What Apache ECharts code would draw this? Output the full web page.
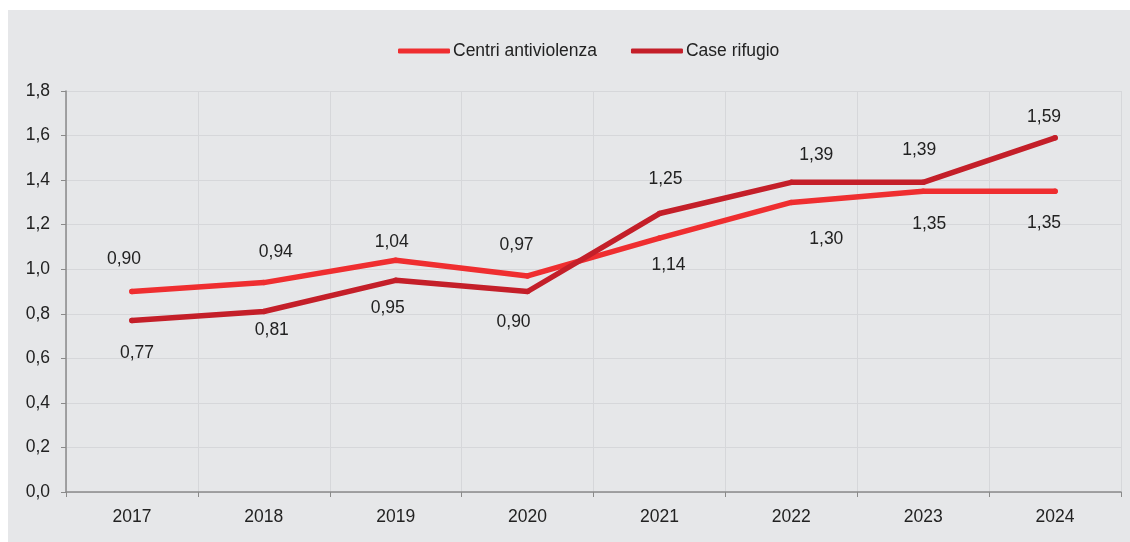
<!DOCTYPE html>
<html>
<head>
<meta charset="utf-8">
<script src="https://cdn.jsdelivr.net/npm/echarts@6/dist/echarts.min.js"></script>
<style>
  html, body { margin: 0; padding: 0; background: #ffffff; }
  #chart { position: absolute; left: 8px; top: 10px; width: 1122px; height: 532px; }
</style>
</head>
<body>
<div id="chart"></div>
<script>
const anni = ['2017', '2018', '2019', '2020', '2021', '2022', '2023', '2024']
const centriAntiviolenza = [0.90, 0.94, 1.04, 0.97, 1.14, 1.30, 1.35, 1.35]
const caseRifugio = [0.77, 0.81, 0.95, 0.90, 1.25, 1.39, 1.39, 1.59]

// spostamento (px) delle etichette rispetto al punto, come nel grafico originale
const spostCentri = [[-8, -32], [12, -30], [-4, -18], [-11, -31], [9, 27], [35, 37], [6, 33], [-11, 32]]
const spostCase = [[5, 33], [8, 19], [-8, 28], [-14, 31], [6, -34], [25, -27], [-4, -32], [-11, -21]]

const virgola = (v, d) => v.toFixed(d).replace('.', ',')
const font = 'Liberation Sans, Arial, sans-serif'

function serie(nome, valori, spostamenti, colore) {
    return {
        name: nome,
        type: 'line',
        data: valori.map((v, i) => ({
            value: v,
            label: { offset: spostamenti[i] }
        })),
        symbol: 'circle',
        symbolSize: 5.5,
        showSymbol: true,
        lineStyle: { width: 5.5, color: colore, cap: 'round' },
        itemStyle: { color: colore, borderWidth: 0 },
        label: {
            show: true,
            position: ['50%', '50%'],
            align: 'center',
            verticalAlign: 'middle',
            fontSize: 17.5,
            fontFamily: font,
            color: '#222222',
            formatter: (p) => virgola(p.value, 2)
        }
    }
}

const chart = echarts.init(document.getElementById('chart'))
const option = {
    backgroundColor: '#e6e7e9',
    animation: false,
    legend: {
        top: 27,
        left: 385,
        icon: 'roundRect',
        itemWidth: 52,
        itemHeight: 5,
        itemGap: 34,
        textStyle: { fontSize: 17.5, fontFamily: font, color: '#222222', padding: [0, 0, 0, -2] },
        data: ['Centri antiviolenza', 'Case rifugio']
    },
    grid: { left: 58, right: 9, top: 81, bottom: 50 },
    xAxis: {
        type: 'category',
        data: anni,
        boundaryGap: true,
        axisLine: { lineStyle: { color: '#8a8a8a', width: 1.5 } },
        axisTick: { show: true, length: 5, lineStyle: { color: '#8a8a8a' } },
        axisLabel: { margin: 16, fontSize: 17.5, fontFamily: font, color: '#222222' },
        splitLine: { show: true, lineStyle: { color: '#d6d7da', width: 1 } }
    },
    yAxis: {
        type: 'value',
        min: 0,
        max: 1.8,
        interval: 0.2,
        axisLine: { show: true, lineStyle: { color: '#8a8a8a', width: 1.5 } },
        axisTick: { show: true, length: 5, lineStyle: { color: '#8a8a8a' } },
        axisLabel: { margin: 16, fontSize: 17.5, fontFamily: font, color: '#222222',
            formatter: (v) => virgola(v, 1) },
        splitLine: { show: true, lineStyle: { color: '#d6d7da', width: 1 } }
    },
    series: [
        serie('Centri antiviolenza', centriAntiviolenza, spostCentri, '#ef2e30'),
        serie('Case rifugio', caseRifugio, spostCase, '#c41f29')
    ]
}
chart.setOption(option)
</script>
</body>
</html>
